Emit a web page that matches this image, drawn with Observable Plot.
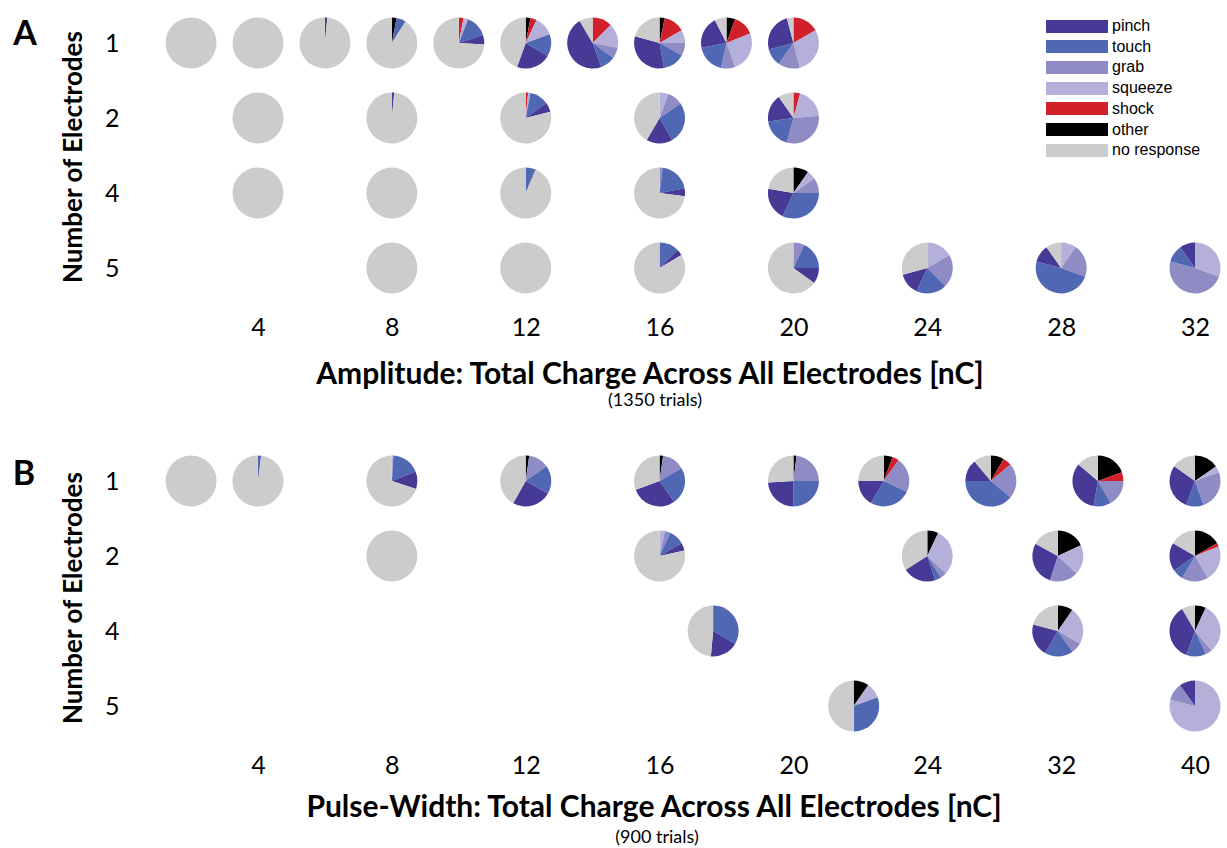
<!DOCTYPE html>
<html><head><meta charset="utf-8">
<script src="https://cdn.jsdelivr.net/npm/d3@7"></script>
<script src="https://cdn.jsdelivr.net/npm/@observablehq/plot@0.6"></script>
<style>
body{margin:0;background:#fff;}
#wrap{position:relative;width:1227px;height:848px;overflow:hidden;font-family:Lato,"Open Sans",sans-serif;color:#000;}
.abs{position:absolute;white-space:nowrap;line-height:1;}
.panel{position:absolute;left:0;}
.sw{position:absolute;width:62px;height:13px;}
.lt{position:absolute;font:16px "Liberation Sans",Arial,sans-serif;line-height:1;}
</style></head><body><div id="wrap"></div>
<script>
// ---------- data ----------
const categories = ["pinch","touch","grab","squeeze","shock","other","no response"];
const categoryColors = ["#463a96","#5068b4","#8f8bc4","#b5b0da","#d2202a","#000000","#cccccc"];
// clockwise slice order starting at 12 o'clock
const sliceOrder = ["other","shock","squeeze","grab","touch","pinch","no response"];
const electrodeLevels = [1,2,4,5];
const ampTicks = [4,8,12,16,20,24,28,32];
const pwTicks = [4,8,12,16,20,24,32,40];
// columns: total charge [nC], electrodes, then % of trials for other, shock, squeeze, grab, touch, pinch, no response
const amplitudePies = [
  [2,1, 0,0,0,0,0,0,100],
  [4,1, 0,0,0,0,0,0,100],
  [6,1, 0,0,0,0,0,1.5,98.5],
  [8,1, 3,0,0,0,6,0,91],
  [10,1, 0,3,3,0,14,6,74],
  [12,1, 3,4,12.5,0,14,22,44.5],
  [14,1, 0,12.5,15.5,7,9.5,47,8.5],
  [16,1, 3.3,13.3,8.3,8.3,14,32,20.8],
  [18,1, 5.5,13.5,25.5,9,18.5,20.5,7.5],
  [20,1, 0,16.7,29.2,13.9,11.1,25,4.1],
  [4,2, 0,0,0,0,0,0,100],
  [8,2, 0,0,0,0,0,1.5,98.5],
  [12,2, 0,1.5,1.5,0,12,6,79],
  [16,2, 0,0,5.6,9.7,26.4,16.7,41.6],
  [20,2, 0,4.2,19.4,30.6,18.6,17.5,9.7],
  [4,4, 0,0,0,0,0,0,100],
  [8,4, 0,0,0,0,0,0,100],
  [12,4, 0,0,0,0,6,0.5,93.5],
  [16,4, 0,0,0,2,20,5,73],
  [20,4, 9.7,0,5.6,9.7,31.9,20.8,22.3],
  [8,5, 0,0,0,0,0,0,100],
  [12,5, 0,0,0,0,0,0,100],
  [16,5, 0,0,0,0,12.5,4,83.5],
  [20,5, 0,0,0,7,18,10,65],
  [24,5, 0,0,16.7,20.8,19.4,13.9,29.2],
  [28,5, 0,0,9.7,20.8,48.6,11.1,9.8],
  [32,5, 0,0,30.5,48.6,11.1,9.8,0]
];
const pulseWidthPies = [
  [2,1, 0,0,0,0,0,0,100],
  [4,1, 0,0,0,0,2,0,98],
  [8,1, 0,0,1,0,18,11,70],
  [12,1, 2.2,0,0,13,18,25,41.8],
  [16,1, 2.2,0,0,14.4,23.6,29.2,30.6],
  [20,1, 2,0,0,23,25,24,26],
  [22.7,1, 5.6,4.2,0,22.2,26.4,16.7,24.9],
  [27.8,1, 8.3,5.6,0,22.2,38.9,13.9,11.1],
  [34.2,1, 19.4,5.6,0,16.7,11.1,33.3,13.9],
  [40,1, 15.3,0,4.2,25,11.1,29.2,15.2],
  [8,2, 0,0,0,0,0,0,100],
  [16,2, 0,0,3.3,3.6,9.7,5,78.4],
  [24,2, 7,0,30,4,4,21,34],
  [31.8,2, 18,0,19,18,0,28,17],
  [40,2, 16.7,2.2,22.8,16.7,6.9,18.1,16.6],
  [17.6,4, 0,0,0,0,33.3,18.1,48.6],
  [31.8,4, 9.7,0,23.6,6.9,18.1,20.8,20.9],
  [40,4, 6.9,0,31.9,4.2,12.5,36.1,8.4],
  [21.8,5, 9.7,0,9.7,0,30.6,0,50],
  [40,5, 0,0,79,11,0,10,0]
];

// ---------- drawing ----------
const colorOf = k => categoryColors[categories.indexOf(k)];
const pieRadius = 25.5;

function pieLayer(rows) {
  return function(...args) {
    const scales = args.find(a => a && typeof a.x === "function" && typeof a.y === "function");
    const g = d3.create("svg:g");
    const pie = d3.pie().sort(null).value(d => d.value);
    const arc = d3.arc().innerRadius(0).outerRadius(pieRadius);
    for (const r of rows) {
      const cx = scales.x(r[0]), cy = scales.y(r[1]);
      const slices = sliceOrder.map((k, i) => ({key: k, value: r[2 + i]}));
      g.append("g").attr("transform", `translate(${cx},${cy})`)
        .selectAll("path").data(pie(slices).filter(d => d.value > 0)).join("path")
        .attr("d", arc).attr("fill", d => colorOf(d.data.key));
    }
    return g.node();
  };
}

const X0 = 258, X1 = 1195;
function panel(rows, ticks) {
  const step = (X1 - X0) / (ticks.length - 1);
  return Plot.plot({
    width: 1227, height: 350,
    marginLeft: 130, marginRight: 0, marginTop: 0, marginBottom: 40,
    style: {fontFamily: "Lato, 'Open Sans', sans-serif", fontSize: "25px", color: "#000", background: "transparent", overflow: "visible"},
    x: {type: "linear", domain: ticks, range: ticks.map((t, i) => X0 + i * step), ticks: ticks, tickSize: 0, tickPadding: 8, label: null},
    y: {type: "point", domain: electrodeLevels, range: [42, 268], padding: 0, tickSize: 0, tickPadding: 11, label: null},
    marks: [
      Plot.dot(rows, {x: d => d[0], y: d => d[1], r: pieRadius, fill: "none", stroke: "none"}),
      pieLayer(rows)
    ]
  });
}

const wrap = document.getElementById("wrap");
const pA = panel(amplitudePies, ampTicks); pA.classList.add("panel"); pA.style.top = "0px"; wrap.appendChild(pA);
const pB = panel(pulseWidthPies, pwTicks); pB.classList.add("panel"); pB.style.top = "438px"; wrap.appendChild(pB);

function label(text, cx, cy, css, rotate) {
  const d = document.createElement("div");
  d.className = "abs"; d.textContent = text;
  d.style.left = cx + "px"; d.style.top = cy + "px";
  d.style.transform = `translate(-50%,-50%)` + (rotate ? ` rotate(${rotate}deg)` : "");
  Object.assign(d.style, css);
  wrap.appendChild(d);
}
const bold = s => ({fontWeight: "700", fontSize: s + "px"});
label("A", 25, 32, bold(34));
label("B", 24, 472, bold(34));
label("Number of Electrodes", 72, 157, bold(26), -90);
label("Number of Electrodes", 72, 598, bold(26), -90);
label("Amplitude: Total Charge Across All Electrodes [nC]", 650, 372, bold(30));
label("(1350 trials)", 655, 399, {fontSize: "18px"});
label("Pulse-Width: Total Charge Across All Electrodes [nC]", 654, 805, bold(30));
label("(900 trials)", 657, 836, {fontSize: "18px"});

// legend
categories.forEach((c, i) => {
  const cy = 26 + i * 20.7;
  const s = document.createElement("div");
  s.className = "sw"; s.style.left = "1046px"; s.style.top = (cy - 6.5) + "px"; s.style.background = categoryColors[i];
  wrap.appendChild(s);
  const t = document.createElement("div");
  t.className = "lt"; t.textContent = c; t.style.left = "1112px"; t.style.top = (cy - 8) + "px";
  wrap.appendChild(t);
});
</script></body></html>
